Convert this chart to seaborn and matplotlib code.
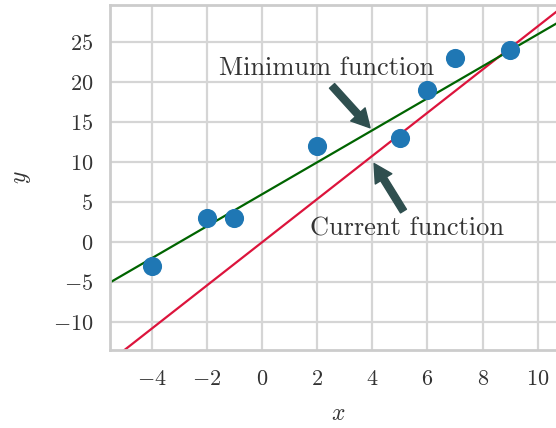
import numpy as np
import pandas as pd
import matplotlib
matplotlib.use("Agg")
import matplotlib.pyplot as plt
import seaborn as sns

# data
x_points = [-4, -2, -1, 2, 5, 6, 7, 9]
y_points = [-3, 3, 3, 12, 13, 19, 23, 24]
min_slope, min_intercept = 2.0, 6.0      # "Minimum function"
cur_slope, cur_intercept = 2.7, 0.0      # "Current function"
x_ticks = [-4, -2, 0, 2, 4, 6, 8, 10]
y_ticks = [-10, -5, 0, 5, 10, 15, 20, 25]

sns.set_theme(style="whitegrid")
plt.rcParams.update({
    "font.family": ["cmr10", "DejaVu Serif"],
    "mathtext.fontset": "cm",
    "axes.formatter.use_mathtext": True,
    "axes.unicode_minus": True,
    "font.size": 16,
})

fig = plt.figure(figsize=(5.56, 4.28), dpi=100)
ax = fig.add_axes([110/556, 78/428, 455.4/556, 345/428])

xlim = (-5.51, 11.0)
ylim = (-13.46, 29.66)
xs = np.array(xlim)

df_pts = pd.DataFrame({"x": x_points, "y": y_points})
df_min = pd.DataFrame({"x": xs, "y": min_slope * xs + min_intercept})
df_cur = pd.DataFrame({"x": xs, "y": cur_slope * xs + cur_intercept})

sns.lineplot(data=df_cur, x="x", y="y", ax=ax, color="crimson", lw=1.6, zorder=2)
sns.lineplot(data=df_min, x="x", y="y", ax=ax, color="darkgreen", lw=1.6, zorder=2)
sns.scatterplot(data=df_pts, x="x", y="y", ax=ax, color="#1f77b4", s=190,
                linewidth=0, zorder=3)

ax.set_xlim(xlim)
ax.set_ylim(ylim)
ax.set_xticks(x_ticks)
ax.set_yticks(y_ticks)
ax.tick_params(axis="both", labelsize=16, colors="#333333", length=0)
ax.tick_params(axis="x", pad=14)
ax.tick_params(axis="y", pad=12)
ax.set_xlabel("$x$", fontsize=17, color="#333333", labelpad=10)
ax.set_ylabel("$y$", fontsize=17, color="#333333", labelpad=14)
for s in ax.spines.values():
    s.set_color("#cccccc")
    s.set_linewidth(2)
ax.grid(color="#d5d5d5", linewidth=1.6)

arrow = dict(facecolor="darkslategray", edgecolor="darkslategray", shrink=0.05,
             width=5, headwidth=14, headlength=13)
ax.annotate("Minimum function", xy=(4, 14), xytext=(-1.55, 20.9),
            fontsize=19, color="#333333", arrowprops=arrow)
ax.annotate("Current function", xy=(4, 10.2), xytext=(1.75, 0.8),
            fontsize=19, color="#333333", arrowprops=arrow)

fig.savefig("out.png", dpi=100)
